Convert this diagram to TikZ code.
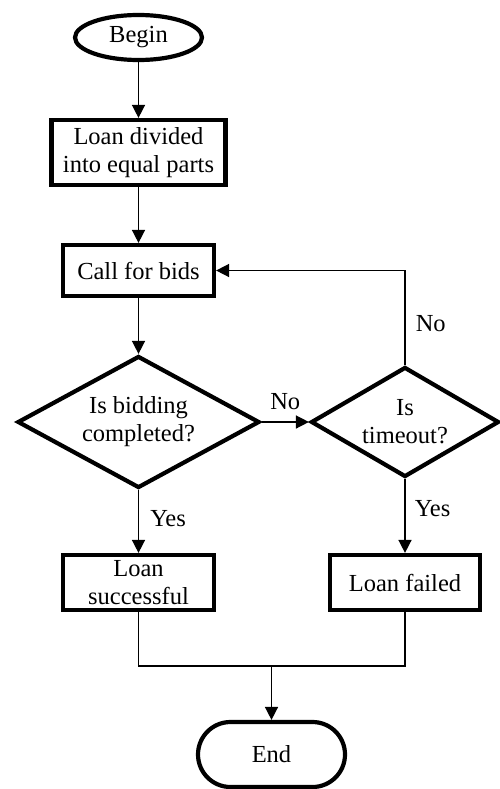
\documentclass[tikz,border=0pt]{standalone}
\usepackage{fontspec}
\setmainfont{Liberation Serif}
\usetikzlibrary{shapes.geometric,shapes.misc,arrows.meta}
\begin{document}
\begin{tikzpicture}[x=1pt,y=-1pt,
  every node/.style={font=\fontsize{24.5}{28}\selectfont, align=center},
  box/.style={draw, line width=4.2pt, rectangle, inner sep=0pt},
  term/.style={draw, line width=4.2pt, ellipse, inner sep=0pt},
  stadium/.style={draw, line width=4.2pt, rounded rectangle, inner sep=0pt},
  decision/.style={draw, line width=4.2pt, diamond, inner sep=0pt, aspect=1.8},
  flow/.style={line width=1.5pt},
  arr/.style={flow, -{Triangle[length=13pt,width=13pt]}},
  lab/.style={inner sep=0pt}
]
\useasboundingbox (0,0) rectangle (499,789);

% process steps
\node[term, minimum width=127pt, minimum height=45pt] (begin) at (138.5,37.5) {Begin};
\node[box, minimum width=174pt, minimum height=65pt] (divide) at (138.5,152.5) {Loan divided\\into equal parts};
\node[box, minimum width=151pt, minimum height=51pt] (bids) at (138.5,270.5) {Call for bids};
\node[decision, minimum width=242pt, minimum height=132pt] (done) at (138.5,422) {Is bidding\\completed?};
\node[decision, minimum width=188pt, minimum height=110pt] (timeout) at (405,422) {Is\\timeout?};
\node[box, minimum width=151pt, minimum height=55pt] (success) at (138.5,582.5) {Loan\\successful};
\node[box, minimum width=150pt, minimum height=55pt] (failed) at (405,582.5) {Loan failed};
\node[stadium, minimum width=147pt, minimum height=65pt] (end) at (271.5,754.5) {End};
\coordinate (merge) at (271.5,666);

% connectors
\draw[arr] (begin) -- (divide);
\draw[arr] (divide) -- (bids);
\draw[arr] (bids) -- (done);
\draw[arr] (done.east) -- node[lab, above=12pt] {No} (timeout.west);
\draw[arr] (timeout.north) |- node[lab, pos=0.22, anchor=west, xshift=10pt] {No} (bids.east);
\draw[arr] (done.south) -- node[lab, pos=0.45, anchor=west, xshift=11pt] {Yes} (success.north);
\draw[arr] (timeout.south) -- node[lab, pos=0.4, anchor=west, xshift=9pt] {Yes} (failed.north);
\draw[flow] (success.south) |- (merge);
\draw[flow] (failed.south) |- (merge);
\draw[arr] (merge) -- (end.north);
\end{tikzpicture}
\end{document}
